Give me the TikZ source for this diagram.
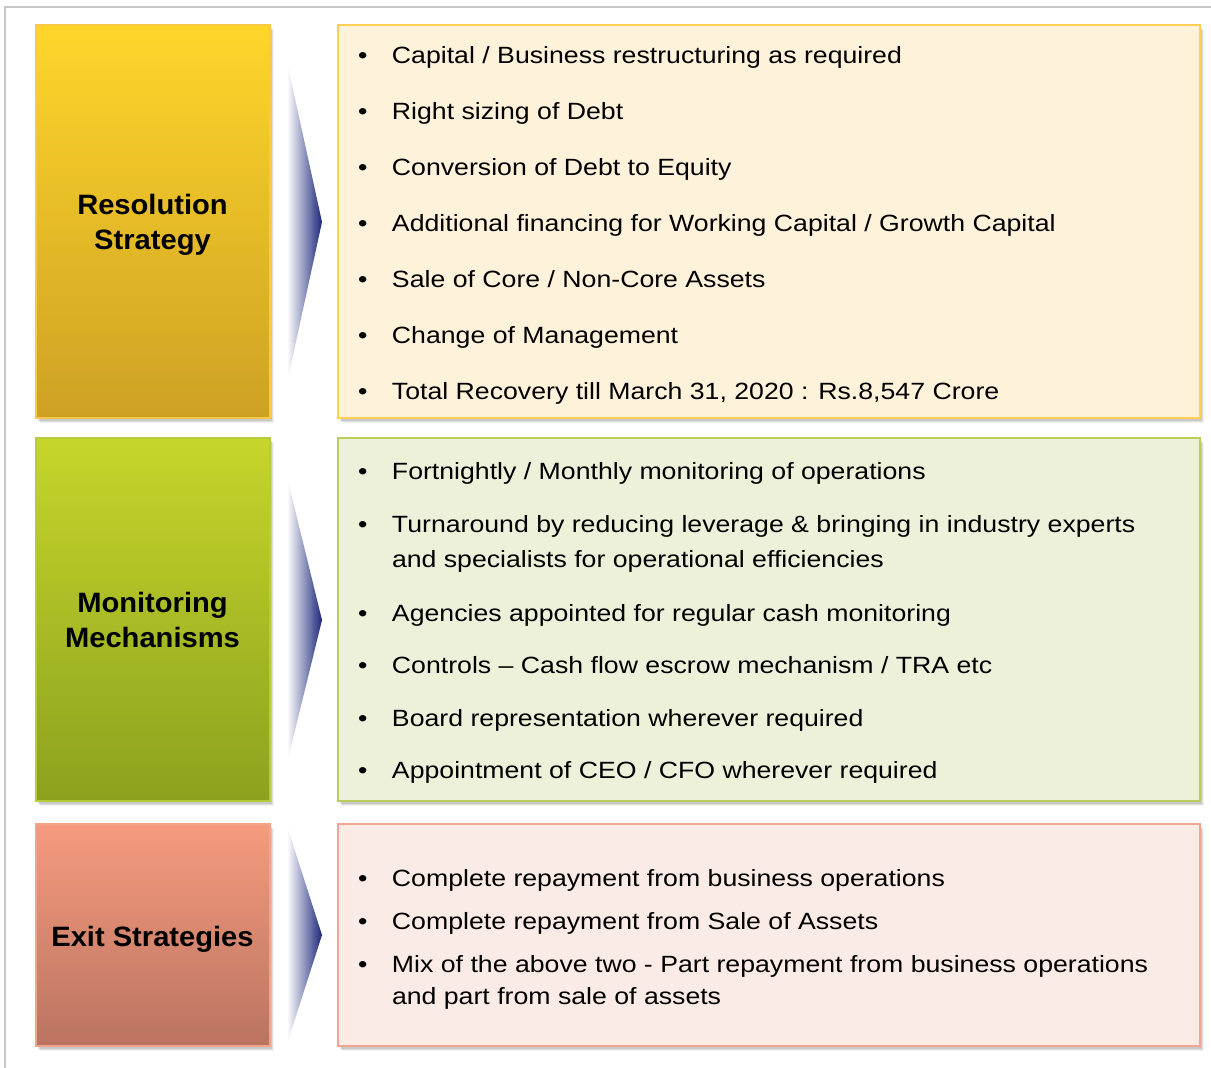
\documentclass[tikz,border=0pt]{standalone}
\usepackage{fontspec}
\setmainfont{Liberation Sans}
\newfontfamily\bodyfont{Liberation Sans}[FakeStretch=1.135]
\newfontfamily\headfont{Liberation Sans}[FakeStretch=1.04]
\usetikzlibrary{shadows}

% panel colours
\definecolor{ylwTop}{RGB}{254,214,42}
\definecolor{ylwBot}{RGB}{206,161,37}
\definecolor{ylwEdge}{RGB}{248,200,70}
\definecolor{ylwFill}{RGB}{254,242,218}
\definecolor{ylwLine}{RGB}{253,208,85}
\definecolor{grnTop}{RGB}{198,214,43}
\definecolor{grnBot}{RGB}{141,161,31}
\definecolor{grnEdge}{RGB}{182,204,60}
\definecolor{grnFill}{RGB}{238,241,217}
\definecolor{grnLine}{RGB}{184,205,90}
\definecolor{redTop}{RGB}{246,155,126}
\definecolor{redBot}{RGB}{186,116,97}
\definecolor{redEdge}{RGB}{242,164,138}
\definecolor{redFill}{RGB}{251,235,230}
\definecolor{redLine}{RGB}{240,166,146}
\definecolor{arrowNavy}{RGB}{28,40,122}
\definecolor{frameGray}{RGB}{200,200,200}

\tikzset{
  softshadow/.style={
    general shadow={shadow xshift=4pt, shadow yshift=-5pt, fill=black, opacity=0.05},
    general shadow={shadow xshift=3pt, shadow yshift=-4pt, fill=black, opacity=0.08},
    general shadow={shadow xshift=2pt, shadow yshift=-3pt, fill=black, opacity=0.10}},
  panel/.style={rectangle, softshadow, line width=2pt, inner sep=0pt, outer sep=0pt},
  headbox/.style={panel, minimum width=234pt},
  headtext/.style={inner sep=0pt, align=center,
    font=\headfont\bfseries\fontsize{28}{35}\selectfont},
  listbox/.style={panel, minimum width=862pt},
  entry/.style={anchor=base west, inner sep=0pt, outer sep=0pt,
    font=\bodyfont\fontsize{23.5}{35}\selectfont},
  chevron/.style={left color=white, right color=arrowNavy}
}
\newcommand{\bulletmark}{\makebox[34pt][l]{\textbullet}}

\begin{document}
\begin{tikzpicture}[x=1pt,y=-1pt]
\useasboundingbox (0,0) rectangle (1211,1068);
\fill[white] (0,0) rectangle (1211,1068);
\draw[frameGray, line width=2pt] (5,1068) -- (5,7) -- (1211,7);

% ---- Resolution Strategy ----
\node[headbox, top color=ylwTop, bottom color=ylwBot, draw=ylwEdge,
      minimum height=393pt] (rs) at (152.5,221) {};
\node[headtext] (rst) at ([yshift=-4pt]rs.center) {Resolution\\Strategy};
\node[listbox, fill=ylwFill, draw=ylwLine, minimum height=393pt] (rsl) at (768.5,221) {};
\shade[chevron] (287,62) -- (322,222) -- (287,383) -- cycle;

\node[entry] (r1) at (358,63)    {\bulletmark Capital / Business restructuring as required};
\node[entry] (r2) at (358,119.1) {\bulletmark Right sizing of Debt};
\node[entry] (r3) at (358,175.2) {\bulletmark Conversion of Debt to Equity};
\node[entry] (r4) at (358,231.3) {\bulletmark Additional financing for Working Capital / Growth Capital};
\node[entry] (r5) at (358,287.4) {\bulletmark Sale of Core / Non-Core Assets};
\node[entry] (r6) at (358,343.5) {\bulletmark Change of Management};
\node[entry] (r7) at (358,399.6) {\bulletmark Total Recovery till March 31, 2020 : Rs.8,547 Crore};

% ---- Monitoring Mechanisms ----
\node[headbox, top color=grnTop, bottom color=grnBot, draw=grnEdge,
      minimum height=363pt] (mm) at (152.5,619) {};
\node[headtext] (mmt) at ([yshift=-1pt]mm.center) {Monitoring\\Mechanisms};
\node[listbox, fill=grnFill, draw=grnLine, minimum height=363pt] (mml) at (768.5,619) {};
\shade[chevron] (287,477) -- (322,620) -- (287,763) -- cycle;

\node[entry] (m1) at (358,479) {\bulletmark Fortnightly / Monthly monitoring of operations};
\node[entry] (m2) at (358,532) {\bulletmark\parbox[t]{800pt}{Turnaround by reducing leverage \& bringing in industry experts\\and specialists for operational efficiencies}};
\node[entry] (m3) at (358,621) {\bulletmark Agencies appointed for regular cash monitoring};
\node[entry] (m4) at (358,673) {\bulletmark Controls – Cash flow escrow mechanism / TRA etc};
\node[entry] (m5) at (358,726) {\bulletmark Board representation wherever required};
\node[entry] (m6) at (358,778) {\bulletmark Appointment of CEO / CFO wherever required};

% ---- Exit Strategies ----
\node[headbox, top color=redTop, bottom color=redBot, draw=redEdge,
      minimum height=222pt] (ex) at (152.5,934.5) {};
\node[headtext] (ext) at ([yshift=-5pt]ex.center) {Exit Strategies};
\node[listbox, fill=redFill, draw=redLine, minimum height=222pt] (exl) at (768.5,934.5) {};
\shade[chevron] (287,826) -- (322,935) -- (287,1044) -- cycle;

\node[entry] (e1) at (358,886) {\bulletmark Complete repayment from business operations};
\node[entry] (e2) at (358,929) {\bulletmark Complete repayment from Sale of Assets};
\node[entry, font=\bodyfont\fontsize{23.5}{32}\selectfont] (e3) at (358,972)
  {\bulletmark\parbox[t]{800pt}{Mix of the above two - Part repayment from business operations\\and part from sale of assets}};
\end{tikzpicture}
\end{document}
